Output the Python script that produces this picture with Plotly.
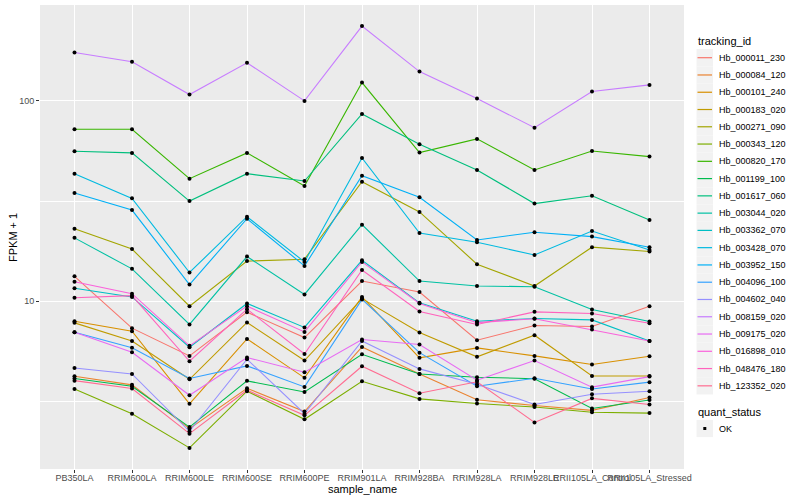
import math
import plotly.graph_objects as go

# ---- data (FPKM + 1) ----
samples = ["PB350LA", "RRIM600LA", "RRIM600LE", "RRIM600SE", "RRIM600PE", "RRIM901LA",
           "RRIM928BA", "RRIM928LA", "RRIM928LE", "RRII105LA_Control", "RRII105LA_Stressed"]

Hb_000011_230 = [13.3, 7.33, 5.33, 8.81, 6.58, 12.6, 11.1, 6.38, 7.56, 7.47, 9.44]
Hb_000084_120 = [4.22, 3.82, 2.31, 3.67, 2.81, 5.91, 4.33, 3.22, 3.01, 2.85, 3.30]
Hb_000101_240 = [7.94, 7.08, 3.07, 6.48, 4.14, 10.5, 5.21, 5.84, 5.33, 4.83, 5.31]
Hb_000183_020 = [7.79, 6.33, 4.07, 7.83, 5.05, 10.3, 6.97, 5.27, 6.76, 4.23, 4.23]
Hb_000271_090 = [23.0, 18.2, 9.44, 15.85, 16.2, 39.5, 27.9, 15.3, 11.9, 18.6, 17.7]
Hb_000343_120 = [3.64, 2.74, 1.85, 3.55, 2.57, 3.98, 3.25, 3.08, 2.96, 2.79, 2.76]
Hb_000820_170 = [72.2, 72.2, 40.9, 55.0, 37.6, 123.5, 55.2, 64.6, 45.2, 56.2, 52.7]
Hb_001199_100 = [4.11, 3.76, 2.35, 4.00, 3.52, 5.43, 4.33, 4.17, 4.10, 2.91, 3.21]
Hb_001617_060 = [56.0, 55.0, 31.6, 43.3, 39.8, 86.1, 60.7, 45.2, 30.7, 33.6, 25.4]
Hb_003044_020 = [20.7, 14.5, 7.65, 16.7, 10.8, 24.1, 12.6, 11.9, 11.8, 9.09, 7.92]
Hb_003362_070 = [11.6, 10.5, 5.89, 9.74, 7.39, 16.0, 9.81, 7.94, 8.19, 8.06, 6.33]
Hb_003428_070 = [43.3, 32.6, 13.9, 26.4, 15.7, 51.9, 21.9, 19.7, 17.0, 22.4, 18.0]
Hb_003952_150 = [34.7, 28.5, 12.1, 25.8, 15.0, 42.3, 33.0, 20.2, 22.1, 21.0, 18.6]
Hb_004096_100 = [7.00, 5.85, 4.11, 4.75, 3.73, 10.2, 5.53, 3.76, 4.12, 3.64, 3.94]
Hb_004602_040 = [4.64, 4.33, 2.24, 5.13, 2.74, 6.33, 4.59, 3.85, 3.05, 3.43, 3.55]
Hb_008159_020 = [174.4, 156.7, 107.5, 154.9, 100.0, 236.3, 140.1, 102.7, 73.5, 111.3, 120.2]
Hb_009175_020 = [7.00, 5.56, 3.39, 5.23, 4.42, 6.43, 6.07, 4.03, 5.05, 3.72, 4.20]
Hb_016898_010 = [12.5, 10.9, 5.98, 9.44, 7.02, 15.7, 9.74, 7.81, 8.17, 7.22, 6.33]
Hb_048476_180 = [10.4, 10.65, 5.01, 9.12, 5.45, 14.3, 8.88, 7.65, 8.84, 8.68, 7.76]
Hb_123352_020 = [4.01, 3.66, 2.18, 3.59, 2.69, 4.73, 3.47, 3.96, 2.48, 3.27, 3.05]

series_names = ["Hb_000011_230", "Hb_000084_120", "Hb_000101_240", "Hb_000183_020",
                "Hb_000271_090", "Hb_000343_120", "Hb_000820_170", "Hb_001199_100",
                "Hb_001617_060", "Hb_003044_020", "Hb_003362_070", "Hb_003428_070",
                "Hb_003952_150", "Hb_004096_100", "Hb_004602_040", "Hb_008159_020",
                "Hb_009175_020", "Hb_016898_010", "Hb_048476_180", "Hb_123352_020"]
series_values = [Hb_000011_230, Hb_000084_120, Hb_000101_240, Hb_000183_020,
                 Hb_000271_090, Hb_000343_120, Hb_000820_170, Hb_001199_100,
                 Hb_001617_060, Hb_003044_020, Hb_003362_070, Hb_003428_070,
                 Hb_003952_150, Hb_004096_100, Hb_004602_040, Hb_008159_020,
                 Hb_009175_020, Hb_016898_010, Hb_048476_180, Hb_123352_020]

y_ticks = [10, 100]
y_tick_labels = ["10", "100"]
quant_status = ["OK"]

# ggplot2 default hue palette for 20 levels
palette = ["#F8766D", "#EA8331", "#D89000", "#C09B00", "#A3A500", "#7CAE00", "#39B600",
           "#00BB4E", "#00BF7D", "#00C1A3", "#00BFC4", "#00BAE0", "#00B0F6", "#35A2FF",
           "#9590FF", "#C77CFF", "#E76BF3", "#FA62DB", "#FF62BC", "#FF6C91"]

FONT = "Liberation Sans, Arial, sans-serif"
W, H = 800, 500
ML, MR, MT, MB = 40, 116, 5, 31
PW, PH = W - ML - MR, H - MT - MB


def px(xp):  # page pixel -> paper x
    return (xp - ML) / PW


def py(yp):  # page pixel -> paper y
    return (H - MB - yp) / PH


fig = go.Figure()
for name, vals, col in zip(series_names, series_values, palette):
    fig.add_trace(go.Scatter(
        x=samples, y=vals, mode="lines", name=name, showlegend=False,
        line=dict(color=col, width=1.1)))
for name, vals in zip(series_names, series_values):
    fig.add_trace(go.Scatter(
        x=samples, y=vals, mode="markers", showlegend=False, hoverinfo="skip",
        marker=dict(color="black", size=4, symbol="circle")))

all_vals = [v for s in series_values for v in s]
lo, hi = math.log10(min(all_vals)), math.log10(max(all_vals))
pad = (hi - lo) * 0.05

# ---- ggplot-style legends (drawn as shapes + text) ----
shapes, annotations = [], []
KX0, KX1, TX = 696.5, 713.0, 717.0
STEP = 17.27
annotations.append(dict(text="tracking_id", x=px(696), y=py(40.7), xref="paper", yref="paper",
                        xanchor="left", yanchor="middle", showarrow=False,
                        font=dict(size=11, color="black", family=FONT)))
for i, (name, col) in enumerate(zip(series_names, palette)):
    cy = 57.7 + i * STEP
    shapes.append(dict(type="rect", xref="paper", yref="paper",
                       x0=px(KX0), x1=px(KX1), y0=py(cy - STEP / 2), y1=py(cy + STEP / 2),
                       fillcolor="#F2F2F2", line=dict(width=0), layer="above"))
    shapes.append(dict(type="line", xref="paper", yref="paper",
                       x0=px(KX0 + 1), x1=px(KX1 - 1), y0=py(cy), y1=py(cy),
                       line=dict(color=col, width=1.2), layer="above"))
    annotations.append(dict(text=name, x=px(TX), y=py(cy), xref="paper", yref="paper",
                            xanchor="left", yanchor="middle", showarrow=False,
                            font=dict(size=9, color="black", family=FONT)))
annotations.append(dict(text="quant_status", x=px(696), y=py(412), xref="paper", yref="paper",
                        xanchor="left", yanchor="middle", showarrow=False,
                        font=dict(size=11, color="black", family=FONT)))
for j, st in enumerate(quant_status):
    cy = 428.5 + j * STEP
    shapes.append(dict(type="rect", xref="paper", yref="paper",
                       x0=px(KX0), x1=px(KX1), y0=py(cy - STEP / 2), y1=py(cy + STEP / 2),
                       fillcolor="#F2F2F2", line=dict(width=0), layer="above"))
    shapes.append(dict(type="rect", xref="paper", yref="paper",
                       x0=px(703.3), x1=px(706.3), y0=py(cy - 1.5), y1=py(cy + 1.5),
                       fillcolor="black", line=dict(width=0), layer="above"))
    annotations.append(dict(text=st, x=px(TX), y=py(cy), xref="paper", yref="paper",
                            xanchor="left", yanchor="middle", showarrow=False,
                            font=dict(size=9, color="black", family=FONT)))

# axis titles
annotations.append(dict(text="sample_name", x=0.5, y=py(489), xref="paper", yref="paper",
                        xanchor="center", yanchor="middle", showarrow=False,
                        font=dict(size=11, color="black", family=FONT)))
annotations.append(dict(text="FPKM + 1", x=px(13), y=py(237), xref="paper", yref="paper",
                        xanchor="center", yanchor="middle", showarrow=False, textangle=-90,
                        font=dict(size=11, color="black", family=FONT)))

fig.update_layout(
    width=W, height=H,
    margin=dict(l=ML, r=MR, t=MT, b=MB),
    paper_bgcolor="white", plot_bgcolor="#EBEBEB",
    font=dict(family=FONT, size=9, color="#1a1a1a"),
    showlegend=False,
    shapes=shapes, annotations=annotations,
    xaxis=dict(
        type="category", categoryorder="array", categoryarray=samples,
        range=[-0.6, len(samples) - 0.4], automargin=False,
        showgrid=True, gridcolor="white", gridwidth=1.1,
        ticks="outside", ticklen=3, tickcolor="#333333", tickwidth=1,
        ticklabelstandoff=-3,
        tickangle=0, tickfont=dict(size=9, color="#4D4D4D", family=FONT),
        zeroline=False, showline=False),
    yaxis=dict(
        type="log", range=[lo - pad, hi + pad], automargin=False,
        tickmode="array", tickvals=y_ticks, ticktext=y_tick_labels,
        showgrid=True, gridcolor="white", gridwidth=1.1,
        minor=dict(tickmode="array", tickvals=[10 ** 0.5, 10 ** 1.5, 10 ** 2.5],
                   showgrid=True, gridcolor="white", gridwidth=0.5, ticks=""),
        ticks="outside", ticklen=3, tickcolor="#333333", tickwidth=1,
        tickfont=dict(size=9, color="#4D4D4D", family=FONT),
        zeroline=False, showline=False),
)

fig.write_html("out.html", config={"displayModeBar": False},
               post_script="document.body.style.margin='0px';")
